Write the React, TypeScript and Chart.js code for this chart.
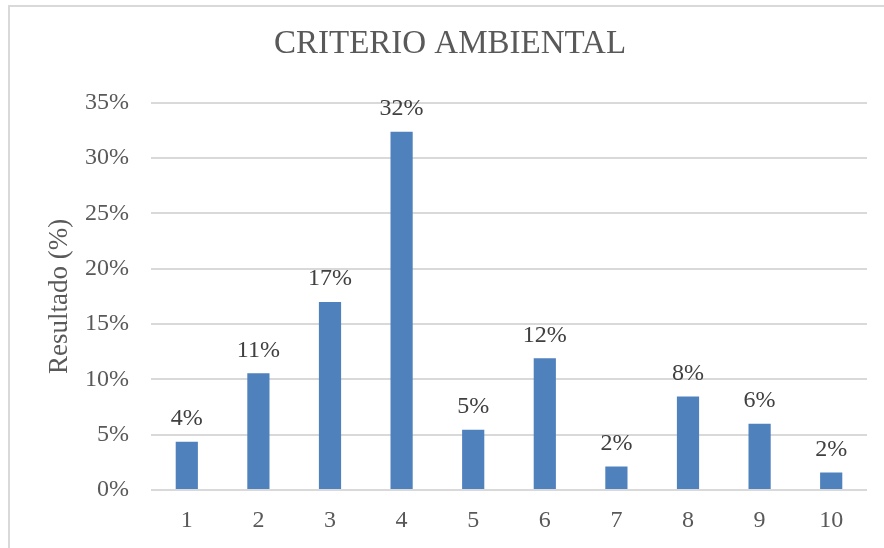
import { useEffect, useRef } from "react";
import { Chart, registerables } from "chart.js";

Chart.register(...registerables);

// Criterio ambiental: share of responses per score (percent)
const categorias = ["1", "2", "3", "4", "5", "6", "7", "8", "9", "10"];
const resultados = [4.36, 10.55, 16.98, 32.37, 5.44, 11.9, 2.13, 8.44, 5.98, 1.59];
const yMin = 0;
const yMax = 35;
const yStep = 5;

const titulo = "CRITERIO AMBIENTAL";
const tituloEjeY = "Resultado (%)";

const FONT = "'Liberation Serif', serif";
const BAR_COLOR = "#4f81bd";
const TEXT_COLOR = "#595959";
const LABEL_COLOR = "#404040";
const GRID_COLOR = "#d9d9d9";

// Draws the rounded percentage above every bar
const etiquetasValor = {
  id: "etiquetasValor",
  afterDatasetsDraw(chart: any) {
    const { ctx } = chart;
    const meta = chart.getDatasetMeta(0);
    const data = chart.data.datasets[0].data as number[];
    ctx.save();
    ctx.font = `24px ${FONT}`;
    ctx.fillStyle = LABEL_COLOR;
    ctx.textAlign = "center";
    ctx.textBaseline = "middle";
    meta.data.forEach((bar: any, i: number) => {
      ctx.fillText(`${Math.round(data[i])}%`, bar.x, bar.y - 23);
    });
    ctx.restore();
  },
};

export default function App() {
  const canvasRef = useRef<HTMLCanvasElement | null>(null);

  useEffect(() => {
    if (!canvasRef.current) return;
    const chart = new Chart(canvasRef.current, {
      type: "bar",
      data: {
        labels: categorias,
        datasets: [
          {
            data: resultados,
            backgroundColor: BAR_COLOR,
            borderWidth: 0,
            categoryPercentage: 1,
            barPercentage: 0.31,
          },
        ],
      },
      options: {
        responsive: false,
        maintainAspectRatio: false,
        animation: false,
        layout: { padding: { left: 23, right: 23, top: 0, bottom: 0 } },
        plugins: {
          legend: { display: false },
          tooltip: { enabled: false },
          title: {
            display: true,
            text: titulo,
            color: TEXT_COLOR,
            font: { family: FONT, size: 33, weight: "normal" },
            padding: { top: 18, bottom: 38 },
          },
        },
        scales: {
          x: {
            grid: { display: false, drawTicks: false },
            border: { display: false },
            ticks: {
              color: TEXT_COLOR,
              font: { family: FONT, size: 24 },
              padding: 16,
              maxRotation: 0,
            },
            afterFit(scale: any) {
              scale.height = 58;
            },
          },
          y: {
            min: yMin,
            max: yMax,
            grid: { color: GRID_COLOR, lineWidth: 2, drawTicks: false },
            border: { display: false },
            ticks: {
              stepSize: yStep,
              color: TEXT_COLOR,
              font: { family: FONT, size: 24 },
              padding: 22,
              callback: (v: any) => `${v}%`,
            },
            title: {
              display: true,
              text: tituloEjeY,
              color: TEXT_COLOR,
              font: { family: FONT, size: 27 },
              padding: { top: 11, bottom: 0 },
            },
            afterFit(scale: any) {
              scale.width = 118;
            },
          },
        },
      },
      plugins: [etiquetasValor],
    });
    return () => chart.destroy();
  }, []);

  return (
    <div
      style={{
        position: "fixed",
        left: 0,
        top: 0,
        width: 884,
        height: 548,
        overflow: "hidden",
        background: "#ffffff",
      }}
    >
      <div
        style={{
          position: "absolute",
          left: 8,
          top: 5,
          width: 900,
          height: 560,
          borderLeft: `2px solid ${GRID_COLOR}`,
          borderTop: `2px solid ${GRID_COLOR}`,
        }}
      >
        <canvas
          ref={canvasRef}
          width={880}
          height={541}
          style={{ display: "block", width: 880, height: 541 }}
        />
      </div>
    </div>
  );
}
